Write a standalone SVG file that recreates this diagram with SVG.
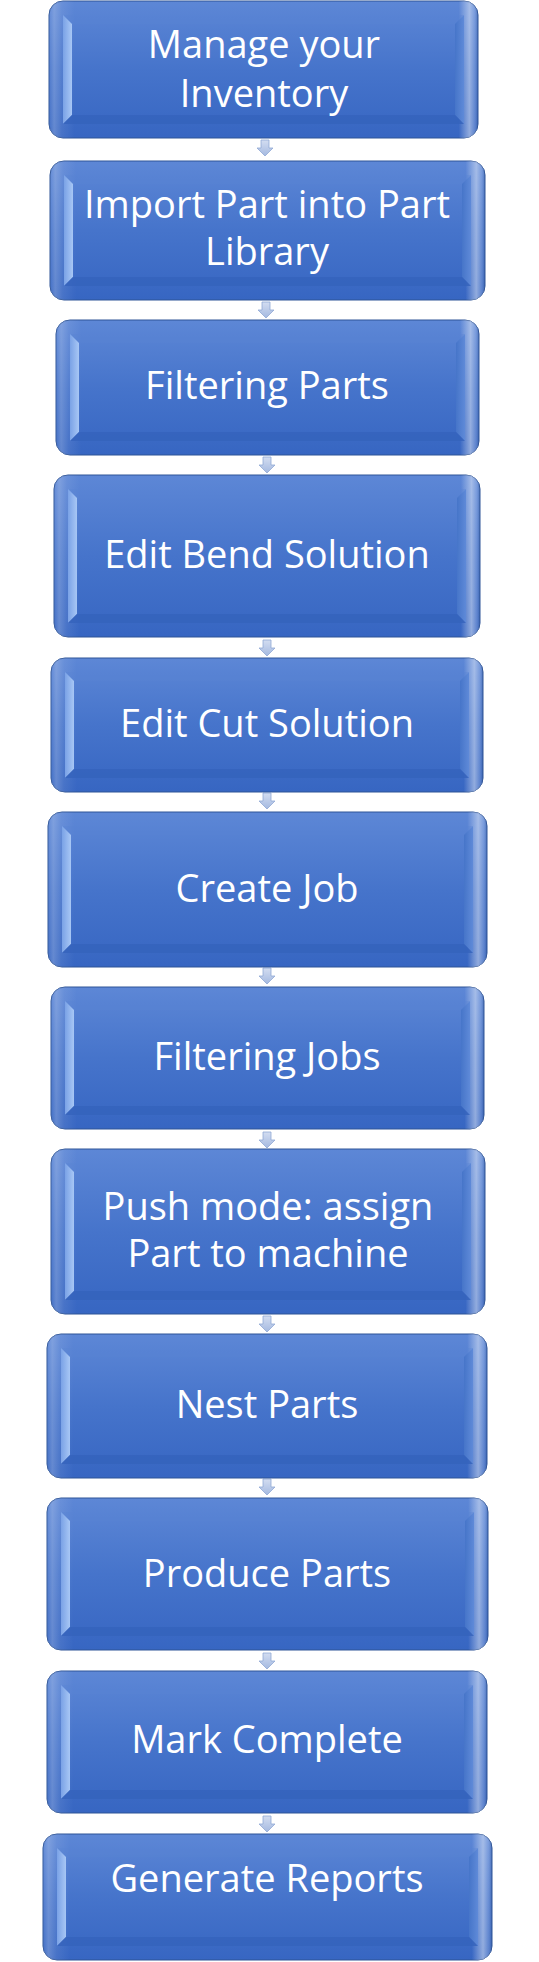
<svg xmlns="http://www.w3.org/2000/svg" width="539" height="1962" viewBox="0 0 539 1962">
<defs>
<linearGradient id="gBody" x1="0" y1="0" x2="0" y2="1">
<stop offset="0" stop-color="#5d87d6"/>
<stop offset="0.5" stop-color="#4674cb"/>
<stop offset="1" stop-color="#3766c2"/>
</linearGradient>
<linearGradient id="gSheen" x1="0" y1="0" x2="1" y2="0">
<stop offset="0" stop-color="#ffffff" stop-opacity="0.05"/>
<stop offset="0.012" stop-color="#ffffff" stop-opacity="0.22"/>
<stop offset="0.03" stop-color="#ffffff" stop-opacity="0.08"/>
<stop offset="0.06" stop-color="#ffffff" stop-opacity="0"/>
<stop offset="0.955" stop-color="#ffffff" stop-opacity="0"/>
<stop offset="0.98" stop-color="#ffffff" stop-opacity="0.45"/>
<stop offset="0.992" stop-color="#ffffff" stop-opacity="0.2"/>
<stop offset="1" stop-color="#1c3f80" stop-opacity="0.3"/>
</linearGradient>
<linearGradient id="gLeft" x1="0" y1="0" x2="1" y2="0">
<stop offset="0" stop-color="#7aa2e6"/>
<stop offset="1" stop-color="#a8c7f5"/>
</linearGradient>
<linearGradient id="gRight" x1="0" y1="0" x2="1" y2="0">
<stop offset="0" stop-color="#4675c9"/>
<stop offset="1" stop-color="#5f8ad8"/>
</linearGradient>
<linearGradient id="gArrow" x1="0" y1="0" x2="0" y2="1">
<stop offset="0" stop-color="#d3ddf1"/>
<stop offset="1" stop-color="#a4b9e0"/>
</linearGradient>
</defs>
<style>
.body{fill:url(#gBody);stroke:#2f5597;stroke-width:1}
.sheen{fill:url(#gSheen)}
.fl{fill:url(#gLeft)}
.fr{fill:url(#gRight)}
.ft{fill:#5a85d4;opacity:0.35}
.fb{fill:#3463bc;opacity:0.8}
.lbl{font-family:"Open Sans","Liberation Sans",sans-serif;font-size:38px;fill:#ffffff;text-anchor:middle}
.arrow{fill:url(#gArrow);stroke:#91a8d4;stroke-width:0.8}
</style>

<g id="connectors">
<path class="arrow" transform="translate(265,140)" d="M-4 0H4V8H8L0 16L-8 8H-4Z"/>
<path class="arrow" transform="translate(266,302)" d="M-4 0H4V8H8L0 16L-8 8H-4Z"/>
<path class="arrow" transform="translate(267,457)" d="M-4 0H4V8H8L0 16L-8 8H-4Z"/>
<path class="arrow" transform="translate(267,640)" d="M-4 0H4V8H8L0 16L-8 8H-4Z"/>
<path class="arrow" transform="translate(267,793)" d="M-4 0H4V8H8L0 16L-8 8H-4Z"/>
<path class="arrow" transform="translate(267,968)" d="M-4 0H4V8H8L0 16L-8 8H-4Z"/>
<path class="arrow" transform="translate(267,1132)" d="M-4 0H4V8H8L0 16L-8 8H-4Z"/>
<path class="arrow" transform="translate(267,1316)" d="M-4 0H4V8H8L0 16L-8 8H-4Z"/>
<path class="arrow" transform="translate(267,1479)" d="M-4 0H4V8H8L0 16L-8 8H-4Z"/>
<path class="arrow" transform="translate(267,1653)" d="M-4 0H4V8H8L0 16L-8 8H-4Z"/>
<path class="arrow" transform="translate(267,1816)" d="M-4 0H4V8H8L0 16L-8 8H-4Z"/>
</g>

<g id="n1" transform="translate(49,1)">
<rect class="body" x="0" y="0" width="429" height="137" rx="14"/>
<rect class="sheen" x="0" y="0" width="429" height="137" rx="14"/>
<path class="ft" d="M14 14L23 23H406L415 14Z"/>
<path class="fl" d="M14 14L23 23V114L14 123Z"/>
<path class="fr" d="M415 14L406 23V114L415 123Z"/>
<path class="fb" d="M14 123L23 114H406L415 123Z"/>
<text class="lbl" x="215" y="57">Manage your</text>
<text class="lbl" x="215" y="106">Inventory</text>
</g>

<g id="n2" transform="translate(50,161)">
<rect class="body" x="0" y="0" width="435" height="139" rx="14"/>
<rect class="sheen" x="0" y="0" width="435" height="139" rx="14"/>
<path class="ft" d="M14 14L23 23H412L421 14Z"/>
<path class="fl" d="M14 14L23 23V116L14 125Z"/>
<path class="fr" d="M421 14L412 23V116L421 125Z"/>
<path class="fb" d="M14 125L23 116H412L421 125Z"/>
<text class="lbl" x="217" y="57">Import Part into Part</text>
<text class="lbl" x="217" y="104">Library</text>
</g>

<g id="n3" transform="translate(56,320)">
<rect class="body" x="0" y="0" width="423" height="135" rx="14"/>
<rect class="sheen" x="0" y="0" width="423" height="135" rx="14"/>
<path class="ft" d="M14 14L23 23H400L409 14Z"/>
<path class="fl" d="M14 14L23 23V112L14 121Z"/>
<path class="fr" d="M409 14L400 23V112L409 121Z"/>
<path class="fb" d="M14 121L23 112H400L409 121Z"/>
<text class="lbl" x="211" y="79">Filtering Parts</text>
</g>

<g id="n4" transform="translate(54,475)">
<rect class="body" x="0" y="0" width="426" height="162" rx="14"/>
<rect class="sheen" x="0" y="0" width="426" height="162" rx="14"/>
<path class="ft" d="M14 14L23 23H403L412 14Z"/>
<path class="fl" d="M14 14L23 23V139L14 148Z"/>
<path class="fr" d="M412 14L403 23V139L412 148Z"/>
<path class="fb" d="M14 148L23 139H403L412 148Z"/>
<text class="lbl" x="213" y="93">Edit Bend Solution</text>
</g>

<g id="n5" transform="translate(51,658)">
<rect class="body" x="0" y="0" width="432" height="134" rx="14"/>
<rect class="sheen" x="0" y="0" width="432" height="134" rx="14"/>
<path class="ft" d="M14 14L23 23H409L418 14Z"/>
<path class="fl" d="M14 14L23 23V111L14 120Z"/>
<path class="fr" d="M418 14L409 23V111L418 120Z"/>
<path class="fb" d="M14 120L23 111H409L418 120Z"/>
<text class="lbl" x="216" y="79">Edit Cut Solution</text>
</g>

<g id="n6" transform="translate(48,812)">
<rect class="body" x="0" y="0" width="439" height="155" rx="14"/>
<rect class="sheen" x="0" y="0" width="439" height="155" rx="14"/>
<path class="ft" d="M14 14L23 23H416L425 14Z"/>
<path class="fl" d="M14 14L23 23V132L14 141Z"/>
<path class="fr" d="M425 14L416 23V132L425 141Z"/>
<path class="fb" d="M14 141L23 132H416L425 141Z"/>
<text class="lbl" x="219" y="90">Create Job</text>
</g>

<g id="n7" transform="translate(51,987)">
<rect class="body" x="0" y="0" width="433" height="142" rx="14"/>
<rect class="sheen" x="0" y="0" width="433" height="142" rx="14"/>
<path class="ft" d="M14 14L23 23H410L419 14Z"/>
<path class="fl" d="M14 14L23 23V119L14 128Z"/>
<path class="fr" d="M419 14L410 23V119L419 128Z"/>
<path class="fb" d="M14 128L23 119H410L419 128Z"/>
<text class="lbl" x="216" y="83">Filtering Jobs</text>
</g>

<g id="n8" transform="translate(51,1149)">
<rect class="body" x="0" y="0" width="434" height="165" rx="14"/>
<rect class="sheen" x="0" y="0" width="434" height="165" rx="14"/>
<path class="ft" d="M14 14L23 23H411L420 14Z"/>
<path class="fl" d="M14 14L23 23V142L14 151Z"/>
<path class="fr" d="M420 14L411 23V142L420 151Z"/>
<path class="fb" d="M14 151L23 142H411L420 151Z"/>
<text class="lbl" x="217" y="71">Push mode: assign</text>
<text class="lbl" x="217" y="118">Part to machine</text>
</g>

<g id="n9" transform="translate(47,1334)">
<rect class="body" x="0" y="0" width="440" height="144" rx="14"/>
<rect class="sheen" x="0" y="0" width="440" height="144" rx="14"/>
<path class="ft" d="M14 14L23 23H417L426 14Z"/>
<path class="fl" d="M14 14L23 23V121L14 130Z"/>
<path class="fr" d="M426 14L417 23V121L426 130Z"/>
<path class="fb" d="M14 130L23 121H417L426 130Z"/>
<text class="lbl" x="220" y="84">Nest Parts</text>
</g>

<g id="n10" transform="translate(47,1498)">
<rect class="body" x="0" y="0" width="441" height="152" rx="14"/>
<rect class="sheen" x="0" y="0" width="441" height="152" rx="14"/>
<path class="ft" d="M14 14L23 23H418L427 14Z"/>
<path class="fl" d="M14 14L23 23V129L14 138Z"/>
<path class="fr" d="M427 14L418 23V129L427 138Z"/>
<path class="fb" d="M14 138L23 129H418L427 138Z"/>
<text class="lbl" x="220" y="89">Produce Parts</text>
</g>

<g id="n11" transform="translate(47,1671)">
<rect class="body" x="0" y="0" width="440" height="142" rx="14"/>
<rect class="sheen" x="0" y="0" width="440" height="142" rx="14"/>
<path class="ft" d="M14 14L23 23H417L426 14Z"/>
<path class="fl" d="M14 14L23 23V119L14 128Z"/>
<path class="fr" d="M426 14L417 23V119L426 128Z"/>
<path class="fb" d="M14 128L23 119H417L426 128Z"/>
<text class="lbl" x="220" y="82">Mark Complete</text>
</g>

<g id="n12" transform="translate(43,1834)">
<rect class="body" x="0" y="0" width="449" height="126" rx="14"/>
<rect class="sheen" x="0" y="0" width="449" height="126" rx="14"/>
<path class="ft" d="M14 14L23 23H426L435 14Z"/>
<path class="fl" d="M14 14L23 23V103L14 112Z"/>
<path class="fr" d="M435 14L426 23V103L435 112Z"/>
<path class="fb" d="M14 112L23 103H426L435 112Z"/>
<text class="lbl" x="224" y="58">Generate Reports</text>
</g>
</svg>
